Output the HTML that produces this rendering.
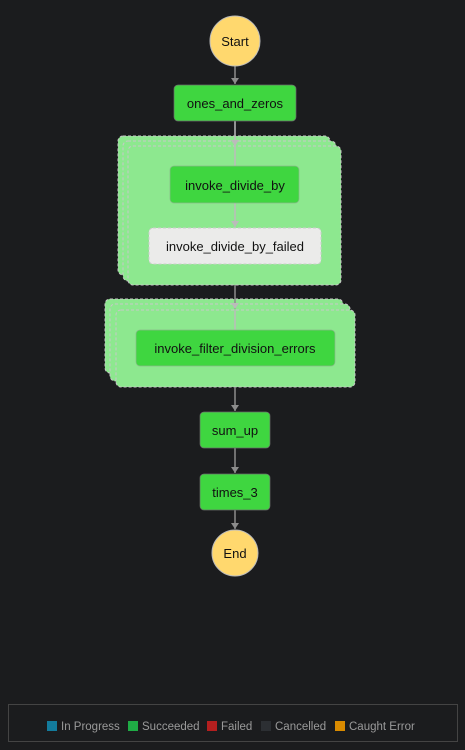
<!DOCTYPE html>
<html><head><style>
html,body{margin:0;padding:0;background:#1b1c1e;width:465px;height:750px;overflow:hidden}
text{font-family:"Liberation Sans","DejaVu Sans",sans-serif}
</style></head><body>
<svg width="465" height="750" viewBox="0 0 465 750" xmlns="http://www.w3.org/2000/svg">
<defs><marker id="a" markerWidth="8" markerHeight="8" refX="6" refY="4" orient="auto" markerUnits="userSpaceOnUse"><path d="M0,0 L6,4 L0,8 Z" fill="#8c8c8c"/></marker>
<marker id="b" markerWidth="8" markerHeight="8" refX="6" refY="4" orient="auto" markerUnits="userSpaceOnUse"><path d="M0,0 L6,4 L0,8 Z" fill="#bbb"/></marker></defs>
<g stroke="#c8c8c8" stroke-dasharray="3,2" stroke-width="1" fill="#8de88f">
<rect x="118" y="136" width="212" height="139" rx="5"/>
<rect x="123" y="141" width="213" height="140" rx="5"/>
<rect x="128" y="146" width="213" height="139" rx="5"/>
<rect x="105" y="299" width="238" height="74" rx="5"/>
<rect x="110" y="304" width="240" height="77" rx="5"/>
<rect x="116" y="310" width="239" height="77" rx="5"/>
</g>
<g stroke="#8c8c8c" stroke-width="1.5">
<line x1="235" y1="66" x2="235" y2="84" marker-end="url(#a)"/>
<line x1="235" y1="121" x2="235" y2="146" stroke="#bbb" marker-end="url(#b)"/>
<line x1="235" y1="146" x2="235" y2="166" stroke="#bbb"/>
<line x1="235" y1="203" x2="235" y2="227" stroke="#bbb" marker-end="url(#b)"/>
<line x1="235" y1="285" x2="235" y2="309" marker-end="url(#b)"/>
<line x1="235" y1="310" x2="235" y2="330" stroke="#bbb"/>
<line x1="235" y1="387" x2="235" y2="411" marker-end="url(#a)"/>
<line x1="235" y1="448" x2="235" y2="473" marker-end="url(#a)"/>
<line x1="235" y1="510" x2="235" y2="529" marker-end="url(#a)"/>
</g>
<circle cx="235" cy="41" r="25" fill="#ffd86e" stroke="#bbb" stroke-width="1"/>
<circle cx="235" cy="553" r="23" fill="#ffd86e" stroke="#bbb" stroke-width="1"/>
<g fill="#3fd640" stroke="#6b6b6b" stroke-width="0.7">
<rect x="174" y="85" width="122" height="36" rx="4"/>
<rect x="170" y="166" width="129" height="37" rx="4" stroke="#8ab88a"/>
<rect x="136" y="330" width="199" height="36" rx="4" stroke="#8ab88a"/>
<rect x="200" y="412" width="70" height="36" rx="4"/>
<rect x="200" y="474" width="70" height="36" rx="4"/>
</g>
<rect x="149" y="228" width="172" height="36" rx="4" fill="#ebebea" stroke="#ccc" stroke-dasharray="3,2"/>
<g font-size="13" fill="#111" text-anchor="middle">
<text x="235" y="46">Start</text>
<text x="235" y="108">ones_and_zeros</text>
<text x="235" y="190">invoke_divide_by</text>
<text x="235" y="251">invoke_divide_by_failed</text>
<text x="235" y="353">invoke_filter_division_errors</text>
<text x="235" y="435">sum_up</text>
<text x="235" y="497">times_3</text>
<text x="235" y="558">End</text>
</g>
<rect x="8.5" y="704.5" width="449" height="37" fill="none" stroke="#444"/>
<g font-size="11.5" fill="#9a9a9a">
<rect x="47" y="721" width="10" height="10" fill="#137b9c"/><text x="61" y="730">In Progress</text>
<rect x="128" y="721" width="10" height="10" fill="#1fab45"/><text x="142" y="730">Succeeded</text>
<rect x="207" y="721" width="10" height="10" fill="#b41f1f"/><text x="221" y="730">Failed</text>
<rect x="261" y="721" width="10" height="10" fill="#2c2f33"/><text x="275" y="730">Cancelled</text>
<rect x="335" y="721" width="10" height="10" fill="#d98b00"/><text x="349" y="730">Caught Error</text>
</g>
</svg>
</body></html>
